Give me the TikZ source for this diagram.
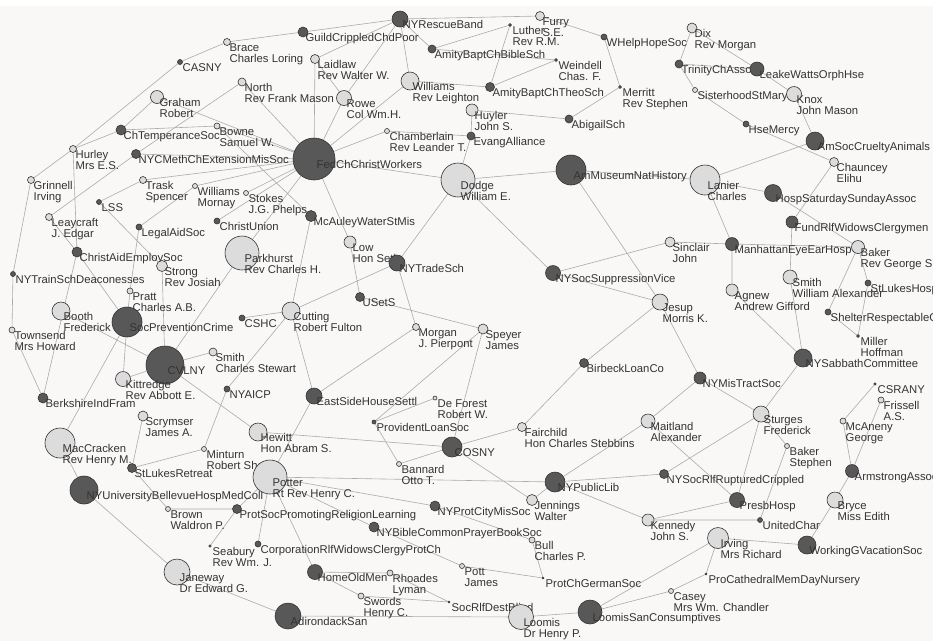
\documentclass[tikz,border=0pt]{standalone}
\usepackage{fontspec}
\setmainfont{Liberation Sans}
\usetikzlibrary{backgrounds}
\definecolor{paper}{HTML}{F9F8F6}
\definecolor{darknode}{HTML}{585858}
\definecolor{lightnode}{HTML}{DCDCDC}
\definecolor{edgegray}{HTML}{ABABAB}
\definecolor{labelgray}{HTML}{333333}
\begin{document}
\begin{tikzpicture}[
    x=1pt, y=-1pt,
    lbl/.style={font=\fontsize{11.3}{11.4}\selectfont, text=labelgray, align=left,
                anchor=north west, inner sep=0pt},
    dk/.style={circle, draw=black!80, line width=0.6pt, fill=darknode,
               inner sep=0pt, minimum size=2*#1pt},
    lt/.style={circle, draw=black!80, line width=0.6pt, fill=lightnode,
               inner sep=0pt, minimum size=2*#1pt},
    lab/.style={append after command={
        node[lbl] at ([xshift=2.5pt, yshift=-1.1pt]\tikzlastnode.center) {#1}}},
    link/.style={draw=edgegray, line width=0.6pt},
  ]
  \useasboundingbox (0,0) rectangle (933,641);
  \clip (0,0) rectangle (933,641);

  % top left
  \node[lt=3.5, lab={Brace\\Charles Loring}] (brace) at (227,42) {};
  \node[dk=2.5, lab={CASNY}] (casny) at (180,62) {};
  \node[lt=6.5, lab={Graham\\Robert}] (graham) at (157,97) {};
  \node[dk=5, lab={ChTemperanceSoc}] (chtemp) at (121,130) {};
  \node[lt=3, lab={Bowne\\Samuel W.}] (bowne) at (217,126) {};
  \node[dk=4.5, lab={NYCMethChExtensionMisSoc}] (nycmeth) at (136,154) {};
  \node[lt=3.5, lab={Hurley\\Mrs E.S.}] (hurley) at (73,149) {};
  \node[lt=3.5, lab={Grinnell\\Irving}] (grinnell) at (31,180) {};
  \node[lt=3.5, lab={Trask\\Spencer}] (trask) at (143,180) {};
  \node[lt=2.5, lab={Williams\\Mornay}] (wmornay) at (195,186) {};
  \node[dk=2.5, lab={LSS}] (lss) at (99,202) {};
  \node[lt=3.5, lab={Leaycraft\\J. Edgar}] (leaycraft) at (49,217) {};
  \node[dk=5, lab={GuildCrippledChdPoor}] (guild) at (303,32) {};
  \node[dk=8, lab={NYRescueBand}] (rescue) at (400,19) {};
  \node[lt=4.5, lab={Laidlaw\\Rev Walter W.}] (laidlaw) at (315,59) {};
  \node[lt=4, lab={North\\Rev Frank Mason}] (north) at (242,82) {};
  \node[lt=7.5, lab={Rowe\\Col Wm.H.}] (rowe) at (344,98) {};
  \node[lt=9, lab={Williams\\Rev Leighton}] (wleighton) at (410,81) {};
  \node[dk=4, lab={AmityBaptChBibleSch}] (amitybible) at (432,49) {};
  \node[lt=2.5, lab={Chamberlain\\Rev Leander T.}] (chamberlain) at (387,131) {};
  \node[dk=21, lab={FedChChristWorkers}] (fed) at (314,159) {};
  \node[lt=2.5, lab={Stokes\\J.G. Phelps}] (stokes) at (246,193) {};
  \node[dk=5.5, lab={McAuleyWaterStMis}] (mcauley) at (311,216) {};
  \node[lt=17, lab={Dodge\\William E.}] (dodge) at (458,180) {};

  % top middle and right
  \node[lt=4.5, lab={Furry\\S.E.}] (furry) at (540,16) {};
  \node[dk=1.5, lab={Luther\\Rev R.M.}] (luther) at (510,25) {};
  \node[dk=3, lab={WHelpHopeSoc}] (whelp) at (604,37) {};
  \node[dk=1.5, lab={Weindell\\Chas. F.}] (weindell) at (556,60) {};
  \node[dk=4.5, lab={AmityBaptChTheoSch}] (amitytheo) at (490,87) {};
  \node[dk=1.5, lab={Merritt\\Rev Stephen}] (merritt) at (620,87) {};
  \node[lt=6, lab={Huyler\\John S.}] (huyler) at (472,110) {};
  \node[dk=4, lab={AbigailSch}] (abigail) at (569,119) {};
  \node[dk=4, lab={EvangAlliance}] (evang) at (471,136) {};
  \node[dk=15, lab={AmMuseumNatHistory}] (ammuseum) at (571,170) {};
  \node[lt=5, lab={Dix\\Rev Morgan}] (dix) at (692,28) {};
  \node[dk=4, lab={TrinityChAssoc}] (trinity) at (679,64) {};
  \node[lt=2.5, lab={SisterhoodStMary}] (sisterhood) at (695,90) {};
  \node[dk=7, lab={LeakeWattsOrphHse}] (leake) at (757,69) {};
  \node[lt=7.5, lab={Knox\\John Mason}] (knox) at (794,94) {};
  \node[dk=3, lab={HseMercy}] (hsemercy) at (746,124) {};
  \node[dk=9, lab={AmSocCrueltyAnimals}] (amsoc) at (815,141) {};
  \node[lt=4.5, lab={Chauncey\\Elihu}] (chauncey) at (834,162) {};
  \node[lt=15, lab={Lanier\\Charles}] (lanier) at (705,180) {};
  \node[dk=8.5, lab={HospSaturdaySundayAssoc}] (hospsat) at (773,193) {};
  \node[dk=6, lab={FundRlfWidowsClergymen}] (fundrlf) at (792,222) {};

  % middle left
  \node[dk=3, lab={LegalAidSoc}] (legalaid) at (139,227) {};
  \node[dk=3, lab={ChristUnion}] (christunion) at (217,221) {};
  \node[dk=5, lab={ChristAidEmploySoc}] (christaid) at (77,252) {};
  \node[lt=5.5, lab={Strong\\Rev Josiah}] (strong) at (162,266) {};
  \node[dk=2.5, lab={NYTrainSchDeaconesses}] (nytrainsch) at (13,274) {};
  \node[lt=3, lab={Pratt\\Charles A.B.}] (pratt) at (130,291) {};
  \node[lt=9, lab={Booth\\Frederick}] (booth) at (61,311) {};
  \node[dk=15, lab={SocPreventionCrime}] (socprev) at (127,322) {};
  \node[lt=3, lab={Townsend\\Mrs Howard}] (townsend) at (12,330) {};
  \node[dk=19, lab={CVLNY}] (cvlny) at (165,365) {};
  \node[lt=4, lab={Smith\\Charles Stewart}] (smithcs) at (213,352) {};
  \node[lt=7.5, lab={Kittredge\\Rev Abbott E.}] (kittredge) at (123,379) {};
  \node[dk=3, lab={NYAICP}] (nyaicp) at (227,389) {};
  \node[dk=5, lab={BerkshireIndFram}] (berkshire) at (43,398) {};
  \node[lt=5, lab={Scrymser\\James A.}] (scrymser) at (143,416) {};
  \node[lt=17, lab={Parkhurst\\Rev Charles H.}] (parkhurst) at (242,253) {};

  % centre
  \node[lt=6, lab={Low\\Hon Seth}] (low) at (350,242) {};
  \node[dk=8, lab={NYTradeSch}] (nytrade) at (397,263) {};
  \node[dk=4.5, lab={USetS}] (usets) at (360,297) {};
  \node[lt=9, lab={Cutting\\Robert Fulton}] (cutting) at (291,311) {};
  \node[dk=3, lab={CSHC}] (cshc) at (242,318) {};
  \node[lt=3.5, lab={Morgan\\J. Pierpont}] (morgan) at (416,327) {};
  \node[dk=8, lab={EastSideHouseSettl}] (eastside) at (314,396) {};
  \node[lt=2, lab={De Forest\\Robert W.}] (deforest) at (435,398) {};
  \node[dk=2, lab={ProvidentLoanSoc}] (provident) at (374,422) {};
  \node[lt=5, lab={Sinclair\\John}] (sinclair) at (670,242) {};
  \node[dk=7.5, lab={NYSocSuppressionVice}] (nysocsupp) at (553,273) {};
  \node[lt=8, lab={Jesup\\Morris K.}] (jesup) at (660,302) {};
  \node[lt=5, lab={Speyer\\James}] (speyer) at (483,329) {};
  \node[dk=4.5, lab={BirbeckLoanCo}] (birbeck) at (584,363) {};
  \node[dk=6, lab={NYMisTractSoc}] (nymistract) at (700,378) {};
  \node[lt=7, lab={Maitland\\Alexander}] (maitland) at (648,421) {};
  \node[lt=4.5, lab={Fairchild\\Hon Charles Stebbins}] (fairchild) at (522,427) {};

  % right
  \node[dk=6.5, lab={ManhattanEyeEarHosp}] (manhattan) at (732,244) {};
  \node[lt=6.5, lab={Baker\\Rev George S.}] (bakerg) at (858,247) {};
  \node[lt=7, lab={Smith\\William Alexander}] (smithwa) at (790,277) {};
  \node[dk=3, lab={StLukesHosp}] (stlukeshosp) at (868,283) {};
  \node[lt=6, lab={Agnew\\Andrew Gifford}] (agnew) at (732,290) {};
  \node[dk=3, lab={ShelterRespectableGirls}] (shelter) at (828,312) {};
  \node[dk=1.5, lab={Miller\\Hoffman}] (miller) at (858,336) {};
  \node[dk=9, lab={NYSabbathCommittee}] (nysabbath) at (803,358) {};
  \node[lt=8, lab={Sturges\\Frederick}] (sturges) at (761,414) {};
  \node[dk=1.2, lab={CSRANY}] (csrany) at (875,384) {};
  \node[lt=3, lab={Frissell\\A.S.}] (frissell) at (881,400) {};
  \node[lt=3, lab={McAneny\\George}] (mcaneny) at (843,421) {};

  % bottom left
  \node[lt=15, lab={MacCracken\\Rev Henry M.}] (maccracken) at (60,443) {};
  \node[dk=4.5, lab={StLukesRetreat}] (stlukesretreat) at (132,468) {};
  \node[lt=2.5, lab={Minturn\\Robert Shaw}] (minturn) at (204,449) {};
  \node[dk=14, lab={NYUniversityBellevueHospMedColl}] (nyuniv) at (84,490) {};
  \node[lt=2.5, lab={Brown\\Waldron P.}] (brown) at (168,509) {};
  \node[dk=4.5, lab={ProtSocPromotingReligionLearning}] (protsoc) at (237,509) {};
  \node[dk=1.2, lab={Seabury\\Rev Wm. J.}] (seabury) at (210,546) {};
  \node[lt=13, lab={Janeway\\Dr Edward G.}] (janeway) at (177,572) {};
  \node[lt=9, lab={Hewitt\\Hon Abram S.}] (hewitt) at (258,432) {};
  \node[lt=17, lab={Potter\\Rt Rev Henry C.}] (potter) at (270,477) {};
  \node[dk=10, lab={COSNY}] (cosny) at (452,447) {};
  \node[lt=2.5, lab={Bannard\\Otto T.}] (bannard) at (399,464) {};
  \node[dk=5, lab={NYProtCityMisSoc}] (nyprotcity) at (435,506) {};
  \node[dk=5, lab={NYBibleCommonPrayerBookSoc}] (nybible) at (374,527) {};
  \node[dk=3, lab={CorporationRlfWidowsClergyProtCh}] (corporation) at (258,544) {};
  \node[dk=7.5, lab={HomeOldMen}] (homeoldmen) at (315,572) {};
  \node[lt=3, lab={Rhoades\\Lyman}] (rhoades) at (390,573) {};
  \node[lt=3, lab={Swords\\Henry C.}] (swords) at (361,596) {};
  \node[dk=13, lab={AdirondackSan}] (adirondack) at (288,616) {};
  \node[lt=2.5, lab={Pott\\James}] (pott) at (462,566) {};
  \node[dk=1, lab={SocRlfDestBlind}] (socrlfblind) at (449,602) {};

  % bottom right
  \node[dk=10, lab={NYPublicLib}] (nypubliclib) at (555,482) {};
  \node[dk=4.5, lab={NYSocRlfRupturedCrippled}] (nysocrlf) at (664,474) {};
  \node[lt=5.5, lab={Jennings\\Walter}] (jennings) at (532,500) {};
  \node[lt=6, lab={Kennedy\\John S.}] (kennedy) at (648,520) {};
  \node[lt=3, lab={Bull\\Charles P.}] (bull) at (532,540) {};
  \node[dk=1, lab={ProtChGermanSoc}] (protchgerman) at (543,578) {};
  \node[lt=12.5, lab={Loomis\\Dr Henry P.}] (loomis) at (521,617) {};
  \node[dk=12, lab={LoomisSanConsumptives}] (loomissan) at (590,612) {};
  \node[lt=2.5, lab={Casey\\Mrs Wm. Chandler}] (casey) at (671,591) {};
  \node[lt=2.5, lab={Baker\\Stephen}] (bakers) at (787,446) {};
  \node[dk=6.5, lab={ArmstrongAssoc}] (armstrong) at (852,471) {};
  \node[dk=7.5, lab={PresbHosp}] (presbhosp) at (737,500) {};
  \node[lt=8, lab={Bryce\\Miss Edith}] (bryce) at (835,500) {};
  \node[dk=2.5, lab={UnitedChar}] (unitedchar) at (760,520) {};
  \node[lt=10.5, lab={Irving\\Mrs Richard}] (irving) at (718,538) {};
  \node[dk=9, lab={WorkingGVacationSoc}] (workingg) at (807,545) {};
  \node[dk=1, lab={ProCathedralMemDayNursery}] (procathedral) at (706,574) {};

  \begin{pgfonlayer}{background}
    \fill[paper] (0,0) rectangle (933,641);
    \fill[white] (0,0) rectangle (933,6);
    % links
    \draw[link] (brace) -- (casny) (casny) -- (hurley) (brace) -- (guild)
      (guild) -- (rescue) (laidlaw) -- (rescue) (rowe) -- (rescue)
      (laidlaw) -- (rowe) (laidlaw) -- (fed) (rowe) -- (fed)
      (north) -- (fed) (north) -- (nycmeth) (graham) -- (fed)
      (graham) -- (chtemp) (chtemp) -- (hurley) (hurley) -- (grinnell)
      (hurley) -- (christaid) (grinnell) -- (nytrainsch)
      (nytrainsch) -- (townsend) (townsend) -- (berkshire)
      (chtemp) -- (bowne) (bowne) -- (fed) (nycmeth) -- (fed)
      (nycmeth) -- (leaycraft) (trask) -- (fed) (trask) -- (lss)
      (wmornay) -- (fed) (stokes) -- (fed) (fed) -- (wleighton)
      (fed) -- (chamberlain) (fed) -- (dodge) (fed) -- (low)
      (bowne) -- (mcauley) (fed) -- (parkhurst)
      (chamberlain) -- (evang);
    \draw[link] (rescue) -- (furry) (rescue) -- (amitybible)
      (rescue) -- (wleighton) (amitybible) -- (luther)
      (luther) -- (amitytheo) (amitytheo) -- (weindell)
      (amitybible) -- (weindell) (wleighton) -- (amitytheo)
      (furry) -- (whelp) (whelp) -- (merritt) (merritt) -- (abigail)
      (huyler) -- (abigail) (huyler) -- (evang) (evang) -- (dodge)
      (dodge) -- (ammuseum) (ammuseum) -- (lanier) (ammuseum) -- (jesup)
      (dodge) -- (nysocsupp) (dodge) -- (nytrade);
    \draw[link] (nysocsupp) -- (sinclair) (nysocsupp) -- (jesup)
      (jesup) -- (birbeck) (birbeck) -- (fairchild) (jesup) -- (nymistract)
      (sinclair) -- (manhattan) (lanier) -- (manhattan)
      (manhattan) -- (agnew) (manhattan) -- (bakerg)
      (lanier) -- (hospsat) (lanier) -- (amsoc) (hospsat) -- (bakerg)
      (chauncey) -- (fundrlf) (knox) -- (amsoc) (leake) -- (knox)
      (dix) -- (leake) (dix) -- (trinity) (trinity) -- (sisterhood)
      (trinity) -- (leake) (sisterhood) -- (hsemercy)
      (hsemercy) -- (chauncey) (fundrlf) -- (smithwa)
      (smithwa) -- (nysabbath) (agnew) -- (nysabbath)
      (bakerg) -- (shelter) (bakerg) -- (stlukeshosp)
      (stlukeshosp) -- (miller) (shelter) -- (miller)
      (nysabbath) -- (sturges) (nymistract) -- (sturges);
    \draw[link] (csrany) -- (mcaneny) (frissell) -- (armstrong)
      (mcaneny) -- (armstrong) (armstrong) -- (bryce)
      (bryce) -- (workingg) (irving) -- (workingg)
      (sturges) -- (presbhosp) (sturges) -- (bakers)
      (sturges) -- (nysocrlf) (maitland) -- (presbhosp)
      (maitland) -- (nypubliclib) (maitland) -- (nymistract)
      (nypubliclib) -- (nysocrlf) (nypubliclib) -- (kennedy)
      (nypubliclib) -- (jennings) (potter) -- (nypubliclib)
      (cosny) -- (jennings) (cosny) -- (fairchild) (cosny) -- (bannard)
      (hewitt) -- (cosny) (kennedy) -- (presbhosp)
      (kennedy) -- (unitedchar) (bakers) -- (unitedchar);
    \draw[link] (usets) -- (speyer) (nytrade) -- (morgan)
      (nytrade) -- (cutting) (low) -- (usets) (morgan) -- (eastside)
      (cutting) -- (eastside) (cutting) -- (cshc) (cutting) -- (nyaicp)
      (cutting) -- (mcauley) (speyer) -- (cosny) (speyer) -- (provident)
      (deforest) -- (provident) (provident) -- (bannard)
      (eastside) -- (potter) (potter) -- (nyprotcity)
      (potter) -- (nybible) (potter) -- (homeoldmen)
      (potter) -- (corporation) (potter) -- (protsoc)
      (nybible) -- (pott) (pott) -- (protchgerman)
      (bull) -- (protchgerman) (nyprotcity) -- (bull)
      (homeoldmen) -- (rhoades) (homeoldmen) -- (swords)
      (rhoades) -- (socrlfblind) (swords) -- (socrlfblind)
      (adirondack) -- (loomis) (loomis) -- (loomissan)
      (loomissan) -- (casey) (loomissan) -- (irving)
      (irving) -- (procathedral) (casey) -- (procathedral);
    \draw[link] (legalaid) -- (pratt) (legalaid) -- (wmornay)
      (lss) -- (strong)
      (christunion) -- (fed) (christaid) -- (socprev)
      (christaid) -- (berkshire) (leaycraft) -- (christaid)
      (booth) -- (cvlny) (socprev) -- (kittredge) (socprev) -- (pratt)
      (socprev) -- (maccracken) (cvlny) -- (strong)
      (cvlny) -- (parkhurst) (cvlny) -- (smithcs) (cvlny) -- (kittredge)
      (cvlny) -- (hewitt) (scrymser) -- (stlukesretreat)
      (stlukesretreat) -- (minturn) (minturn) -- (nyaicp)
      (stlukesretreat) -- (brown) (brown) -- (protsoc)
      (protsoc) -- (seabury) (maccracken) -- (nyuniv)
      (nyuniv) -- (janeway) (janeway) -- (adirondack);
  \end{pgfonlayer}
\end{tikzpicture}
\end{document}
